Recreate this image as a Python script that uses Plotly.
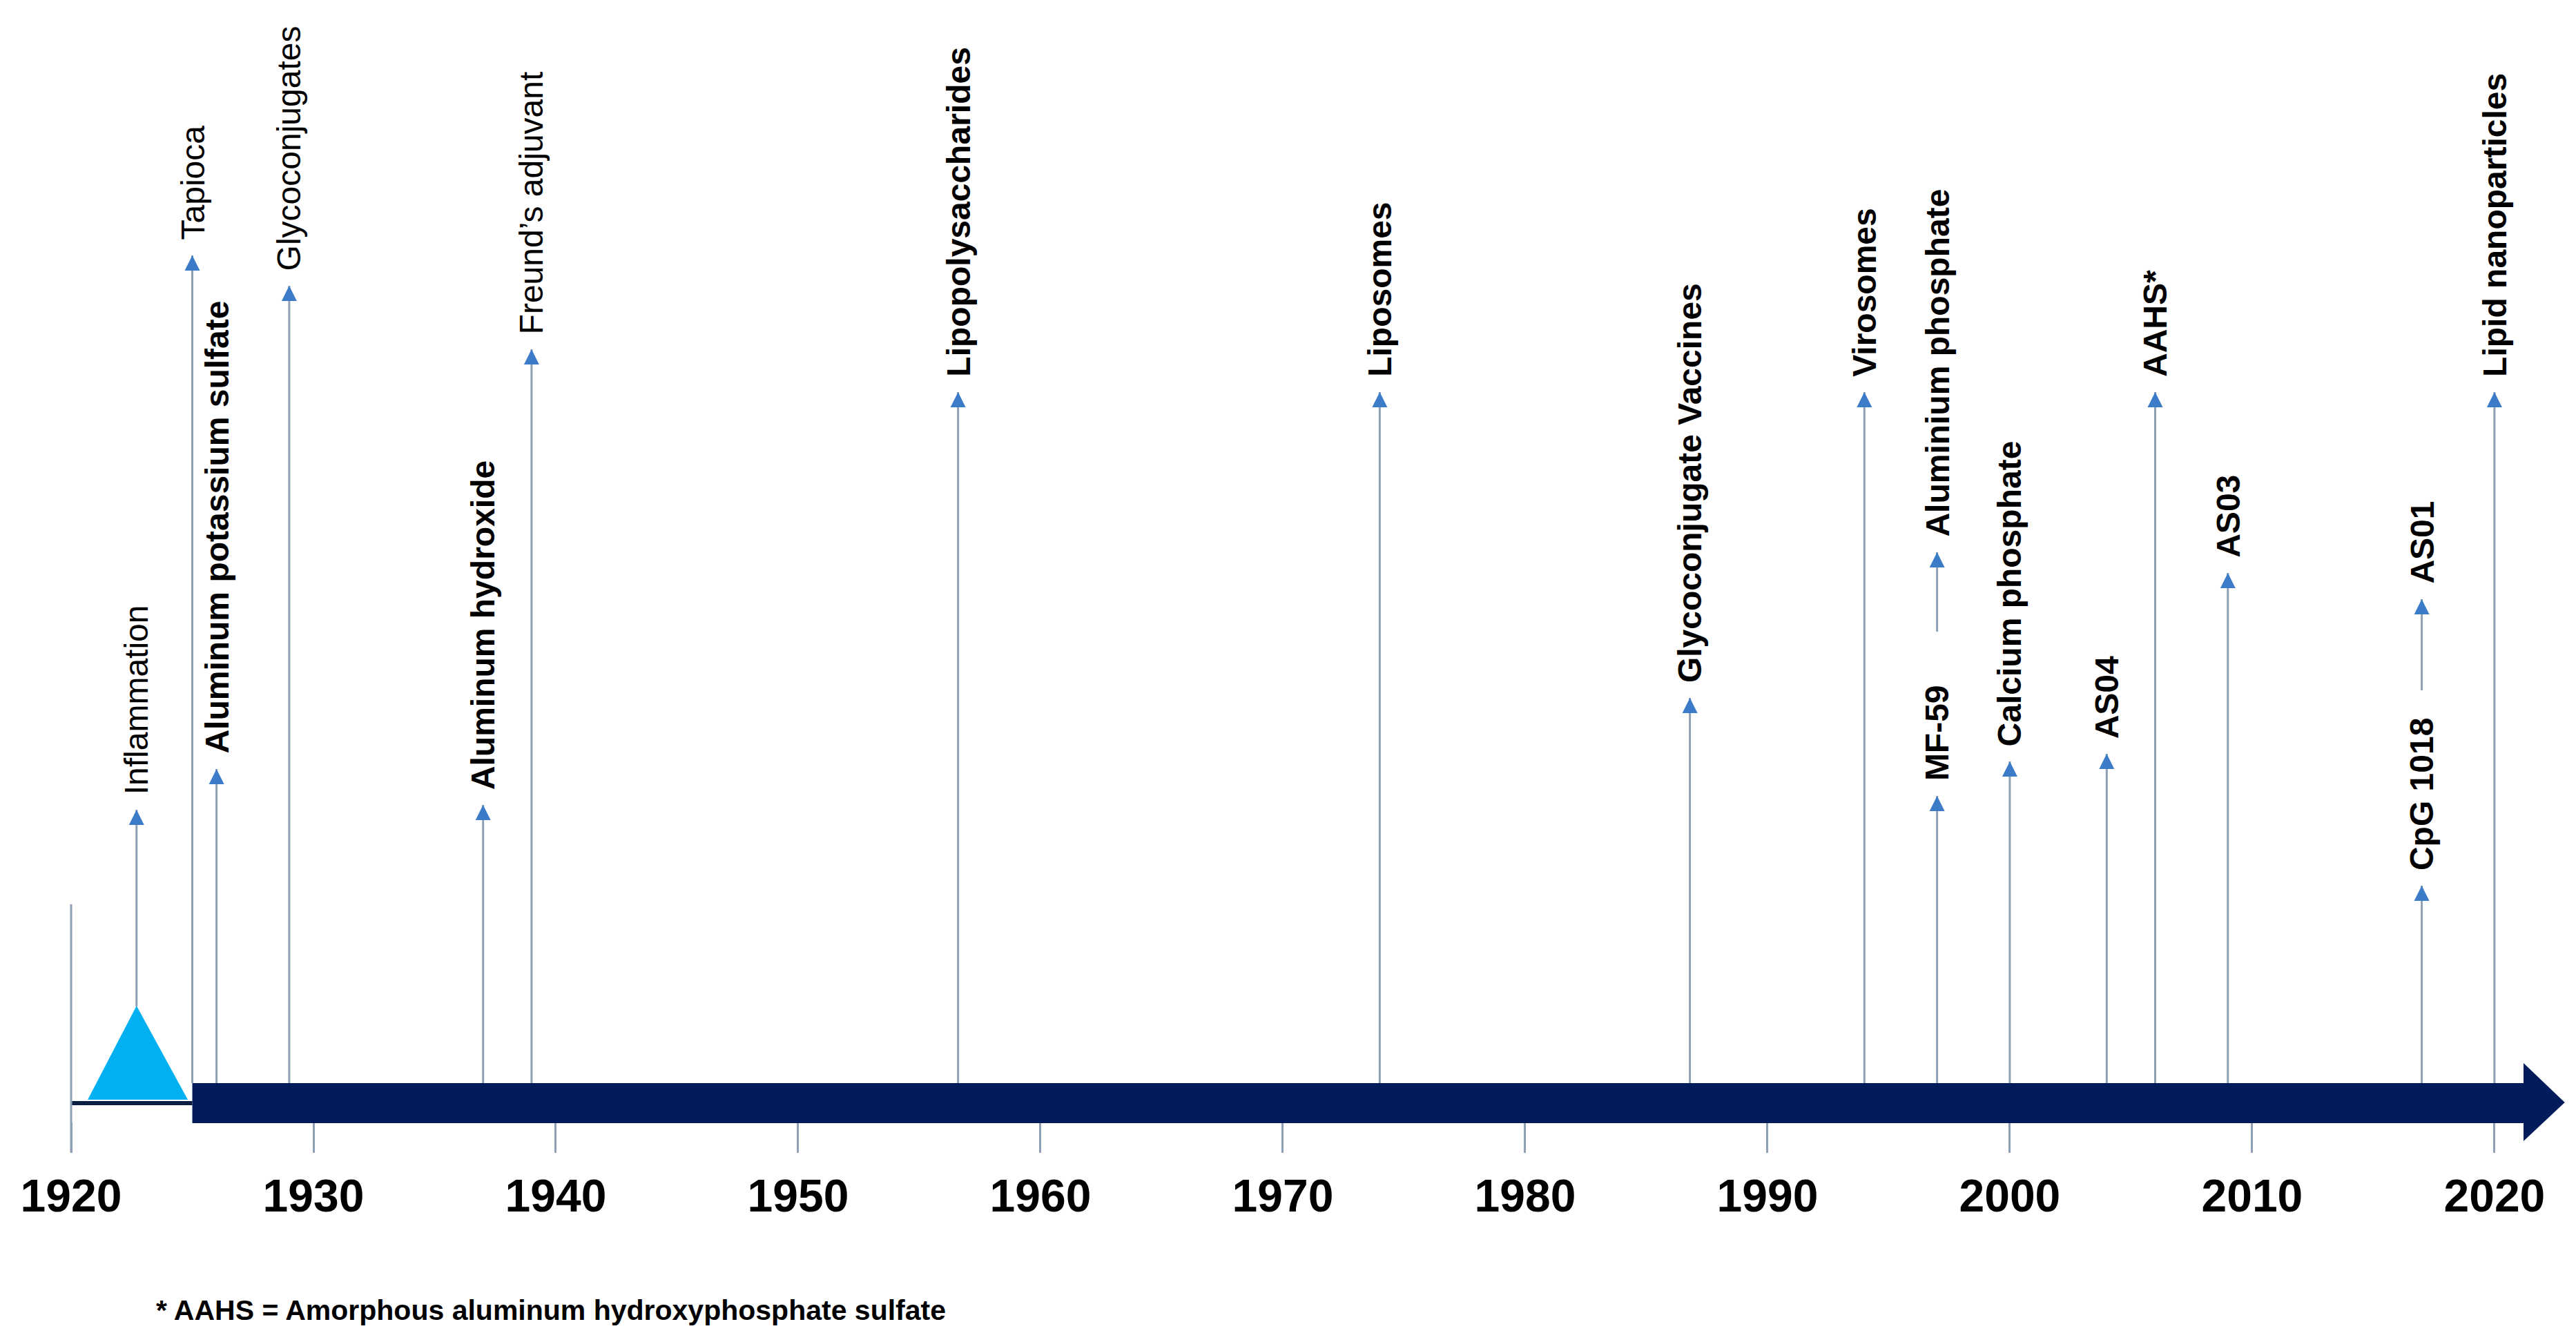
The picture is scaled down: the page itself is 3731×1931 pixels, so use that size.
import plotly.graph_objects as go

# Adjuvant milestones: year, arrow start and arrow tip (height above the timeline bar)
labels = ["Inflammation", "Tapioca", "Aluminum potassium sulfate", "Glycoconjugates",
          "Aluminum hydroxide", "Freund’s adjuvant", "Lipopolysaccharides", "Liposomes",
          "Glycoconjugate Vaccines", "Virosomes", "MF-59", "Aluminium phosphate",
          "Calcium phosphate", "AS04", "AAHS*", "AS03", "CpG 1018", "AS01",
          "Lipid nanoparticles"]
years = [1922.7, 1925, 1926, 1929, 1937, 1939, 1956.6, 1974, 1986.8, 1994, 1997, 1997,
         2000, 2004, 2006, 2009, 2017, 2017, 2020]
starts = [111, 0, 0, 0, 0, 0, 0, 0, 0, 0, 0, 654, 0, 0, 0, 0, 0, 569, 0]
tips = [396, 1199, 455, 1155, 403, 1063, 1001, 1001, 558, 1001, 416, 769, 466, 477,
        1001, 739, 286, 701, 1001]
bold = [False, False, True, False, True, False, True, True, True, True, True, True,
        True, True, True, True, True, True, True]

decades = list(range(1920, 2021, 10))
decade_labels = [str(d) for d in decades]

# inflammation "peak" before the timeline
peak_x = [1920.7, 1922.7, 1924.8]
peak_y = [-24, 111, -24]

footnote = "* AAHS = Amorphous aluminum hydroxyphosphate sulfate"

FONT = "Liberation Sans, Arial, sans-serif"
NAVY = "#021b5b"
LINE = "#8ea0b4"
ARROW = "#3b7bc8"

fig = go.Figure()

# stems
lx, ly = [], []
for yr, s, t in zip(years, starts, tips):
    lx += [yr, yr, None]
    ly += [s, t, None]
fig.add_trace(go.Scatter(x=lx, y=ly, mode="lines",
                         line=dict(color=LINE, width=3), hoverinfo="skip"))

# arrow heads
fig.add_trace(go.Scatter(x=years, y=tips, mode="markers",
                         marker=dict(symbol="arrow-up", size=22, color=ARROW),
                         text=labels, hoverinfo="text"))

# peak triangle
fig.add_trace(go.Scatter(x=peak_x, y=peak_y, fill="toself", mode="lines",
                         fillcolor="#00b0f0", line=dict(color="#00b0f0", width=1),
                         hoverinfo="skip"))

# timeline bar + arrow
bar_start, bar_end, arrow_tip = 1925, 2021.2, 2022.9
fig.add_shape(type="line", x0=1920, x1=bar_start, y0=-29, y1=-29,
              line=dict(color="#0b1d40", width=6), layer="below")
fig.add_shape(type="rect", x0=bar_start, x1=bar_end, y0=-58, y1=0,
              fillcolor=NAVY, line=dict(width=0))
fig.add_shape(type="path",
              path=f"M {bar_end},29 L {arrow_tip},-28 L {bar_end},-84 Z",
              fillcolor=NAVY, line=dict(width=0))
fig.add_shape(type="line", x0=1920, x1=1920, y0=-101, y1=259,
              line=dict(color=LINE, width=3))

# milestone labels
for name, yr, t, b in zip(labels, years, tips, bold):
    fig.add_annotation(x=yr, y=t + 20, text=name, textangle=-90, showarrow=False,
                       xanchor="center", yanchor="bottom",
                       font=dict(family=FONT, size=48, color="black",
                                 weight="bold" if b else "normal"))

fig.add_annotation(xref="paper", yref="paper", x=0.058, y=-0.137, text=footnote,
                   showarrow=False, xanchor="left", yanchor="middle",
                   font=dict(family=FONT, size=41, color="black", weight="bold"))

fig.update_xaxes(range=[1917.293, 2023.593], tickvals=decades, ticktext=decade_labels,
                 ticks="inside", ticklen=44, tickwidth=3, tickcolor=LINE,
                 ticklabelstandoff=18,
                 tickfont=dict(family=FONT, size=66, color="black", weight="bold"),
                 showgrid=False, zeroline=False, showline=False)
fig.update_yaxes(range=[-101, 1561], visible=False)

fig.update_layout(width=3731, height=1931, showlegend=False,
                  margin=dict(l=0, r=0, t=0, b=269),
                  paper_bgcolor="white", plot_bgcolor="white")

fig.write_html("out.html")
